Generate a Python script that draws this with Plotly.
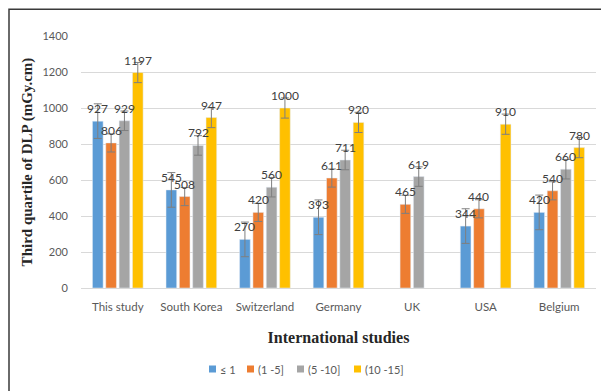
import numpy as np
import plotly.graph_objects as go

# Third-quartile DLP (mGy.cm) by age band and study
categories = ["This study", "South Korea", "Switzerland", "Germany", "UK", "USA", "Belgium"]
series_names = ["≤ 1", "(1 -5]", "(5 -10]", "(10 -15]"]
age_le1 = [927, 545, 270, 393, None, 344, 420]
age_1_5 = [806, 508, 420, 611, 465, 440, 540]
age_5_10 = [929, 792, 560, 711, 619, None, 660]
age_10_15 = [1197, 947, 1000, 920, None, 910, 780]
series_values = [age_le1, age_1_5, age_5_10, age_10_15]
colors = ["#5B9BD5", "#ED7D31", "#A5A5A5", "#FFC000"]
y_ticks = [0, 200, 400, 600, 800, 1000, 1200, 1400]

W, H = 601, 391
margin = dict(l=81, r=5, t=36, b=103)
bargap, bargroupgap = 0.275, 0.2
plot_w = W - margin["l"] - margin["r"]
plot_h = H - margin["t"] - margin["b"]


def px_to_paper_x(px):
    return (px - margin["l"]) / plot_w


def px_to_paper_y(py):
    return (H - margin["b"] - py) / plot_h


fig = go.Figure()
for name, vals, col in zip(series_names, series_values, colors):
    present = np.array([v for v in vals if v is not None], dtype=float)
    # standard error of the series, applied to every bar
    se = present.std(ddof=1) / np.sqrt(len(present))
    fig.add_trace(go.Bar(
        name=name, x=categories, y=vals, marker_color=col,
        error_y=dict(type="constant", value=se, color="#7F7F7F",
                     thickness=1, width=4),
        showlegend=False,
    ))

# value labels above each bar, offset to each bar's slot within the group
slot = plot_w / len(categories) * (1 - bargap) / len(series_values)
for i, vals in enumerate(series_values):
    for cat, v in zip(categories, vals):
        if v is None:
            continue
        fig.add_annotation(
            x=cat, y=v, text=str(v), showarrow=False,
            xshift=(i - (len(series_values) - 1) / 2) * slot,
            yanchor="bottom", yshift=3,
            font=dict(family="Lato", size=12, color="#404040"),
        )

# compact legend row: colour key followed by its label
legend_left = [209, 247, 297, 354]
legend_mid, key = 369, 7
for name, col, x0 in zip(series_names, colors, legend_left):
    fig.add_shape(type="rect", xref="paper", yref="paper",
                  x0=px_to_paper_x(x0), x1=px_to_paper_x(x0 + key),
                  y0=px_to_paper_y(legend_mid + key / 2),
                  y1=px_to_paper_y(legend_mid - key / 2),
                  fillcolor=col, line=dict(width=0))
    fig.add_annotation(xref="paper", yref="paper",
                       x=px_to_paper_x(x0 + key + 2), y=px_to_paper_y(legend_mid),
                       xanchor="left", yanchor="middle", showarrow=False,
                       text=name, font=dict(family="Lato", size=11, color="#595959"))

# chart-area frame
fig.add_shape(type="rect", xref="paper", yref="paper",
              x0=px_to_paper_x(9), x1=1.2,
              y0=-1.0, y1=px_to_paper_y(9.3),
              line=dict(color="#3A3A3A", width=1.5), layer="above")

fig.update_layout(
    width=W, height=H, margin=margin,
    paper_bgcolor="white", plot_bgcolor="white",
    barmode="group", bargap=bargap, bargroupgap=bargroupgap,
    font=dict(family="Lato", size=11, color="#595959"),
    showlegend=False,
    xaxis=dict(
        showgrid=False, showline=True, linecolor="#D9D9D9", linewidth=1,
        ticks="", tickfont=dict(size=11.5), ticklabelstandoff=8,
        title=dict(text="<b>International studies</b>", standoff=20,
                   font=dict(family="Liberation Serif", size=16, color="#262626")),
    ),
    yaxis=dict(
        range=[0, 1400], tickvals=y_ticks, showgrid=True, gridcolor="#D9D9D9",
        gridwidth=1, zeroline=False, ticks="", ticklabelstandoff=12,
        title=dict(text="<b>Third quartile of DLP (mGy.cm)</b>", standoff=6,
                   font=dict(family="Liberation Serif", size=15, color="#262626")),
    ),
)

fig.write_html("out.html")
